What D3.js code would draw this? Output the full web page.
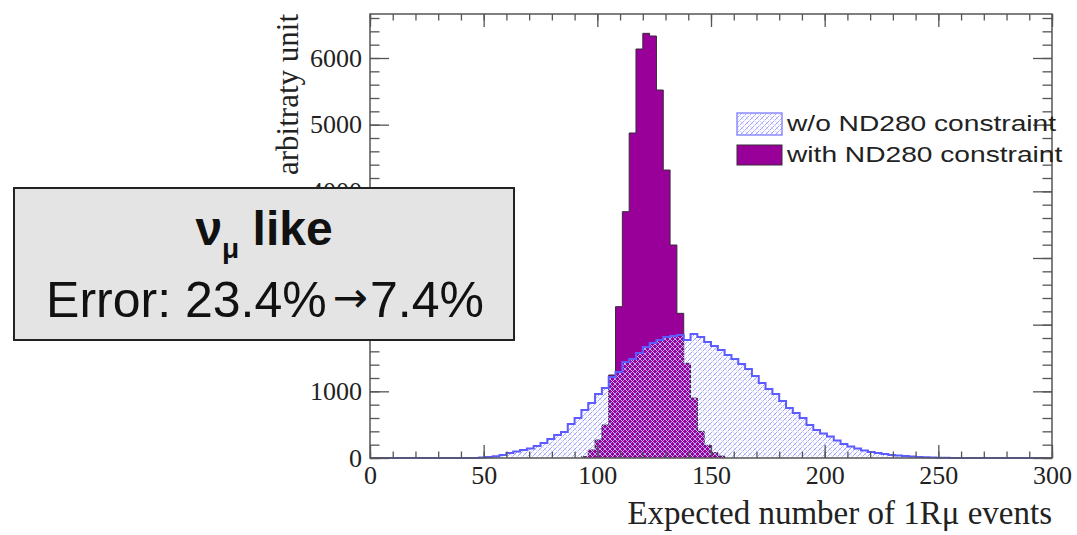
<!DOCTYPE html>
<html>
<head>
<meta charset="utf-8">
<script src="https://cdn.jsdelivr.net/npm/d3@7"></script>
<style>
  html, body { margin: 0; padding: 0; background: #fff; }
  svg { display: block; }
</style>
</head>
<body>
<svg id="chart" width="1077" height="535"></svg>
<script>
// histogram binning (both histograms: 100 bins over 0..300)
const binWidth = 3;
const xMin = 0, xMax = 300;

// with ND280 constraint (purple), first bin lower edge + bin contents
const purpleStart = 93;
const purpleValues = [20, 120, 270, 495, 1245, 2270, 3695, 4875, 6135, 6370, 6330,
  5520, 4320, 3195, 2170, 1420, 900, 400, 190, 80, 30];

// w/o ND280 constraint (blue hatched)
const blueStart = 48;
const blueValues = [8, 15, 25, 45, 75, 98, 120, 143, 180, 225, 285, 345, 390, 510, 600,
  720, 825, 960, 1050, 1215, 1290, 1440, 1485, 1575, 1665, 1725, 1770, 1815, 1830,
  1845, 1770, 1860, 1815, 1740, 1680, 1620, 1545, 1485, 1410, 1335, 1230, 1125, 1035,
  960, 855, 750, 675, 600, 495, 420, 368, 323, 263, 210, 173, 143, 113, 90, 75, 60,
  45, 38, 30, 23, 15, 12, 8, 5, 3];

const xMajorTicks = [0, 50, 100, 150, 200, 250, 300];
const yMajorTicks = [0, 1000, 2000, 3000, 4000, 5000, 6000];
const yMax = 6660;

const legendLabels = ["w/o ND280 constraint", "with ND280 constraint"];
const boxTitle = ["ν", "μ", " like"];
const boxError = ["Error: 23.4%", "→", "7.4%"];

const svg = d3.select("#chart");

const margin = { left: 370, right: 25, top: 14, bottom: 77 };
const width = 1077 - margin.left - margin.right,
  height = 535 - margin.top - margin.bottom;

const x = d3.scaleLinear().domain([xMin, xMax]).range([0, width]);
const y = d3.scaleLinear().domain([0, yMax]).range([height, 0]);

const g = svg.append("g")
  .attr("transform", "translate(" + margin.left + "," + margin.top + ")");

// hatch pattern like ROOT fill style
const defs = svg.append("defs");
const pat = defs.append("pattern")
  .attr("id", "hatch")
  .attr("patternUnits", "userSpaceOnUse")
  .attr("width", 5).attr("height", 5);
pat.append("path")
  .attr("d", "M-1,1 l2,-2 M0,5 l5,-5 M4,6 l2,-2")
  .attr("stroke", "#a4a4ff").attr("stroke-width", 1);
pat.append("path")
  .attr("d", "M-1,4 l2,2 M0,0 l5,5 M4,-1 l2,2")
  .attr("stroke", "#d4d4ff").attr("stroke-width", 0.8);

// turn a bin list into step points
function toBins(start, values) {
  const pts = values.map((v, i) => [start + i * binWidth, v]);
  pts.push([start + values.length * binWidth, values[values.length - 1]]);
  return pts;
}

// blue histogram covers the whole axis range (zeros outside data)
const blueFull = d3.range(xMin, xMax, binWidth).map(e => {
  const i = Math.round((e - blueStart) / binWidth);
  return i >= 0 && i < blueValues.length ? blueValues[i] : 0;
});
const blueBins = toBins(xMin, blueFull);
const purpleBins = toBins(purpleStart, purpleValues);

const area = d3.area()
  .curve(d3.curveStepAfter)
  .x(d => x(d[0]))
  .y0(y(0))
  .y1(d => y(d[1]));

const line = d3.line()
  .curve(d3.curveStepAfter)
  .x(d => x(d[0]))
  .y(d => y(d[1]));

// purple
g.append("path")
  .datum(purpleBins)
  .attr("fill", "#990099")
  .attr("d", area);
const pLine = [[purpleStart, 0]].concat(purpleBins, [[purpleBins[purpleBins.length - 1][0], 0]]);
g.append("path")
  .datum(pLine)
  .attr("fill", "none")
  .attr("stroke", "#3a2a3a")
  .attr("stroke-width", 1)
  .attr("d", line);

// blue hatched
g.append("path")
  .datum(blueBins)
  .attr("fill", "url(#hatch)")
  .attr("d", area);
g.append("path")
  .datum(blueBins)
  .attr("fill", "none")
  .attr("stroke", "#5c5cff")
  .attr("stroke-width", 2)
  .attr("d", line);

// axes with ROOT-like inside ticks
const tickFont = "Liberation Serif, Times New Roman, serif";
function styleAxis(sel) {
  sel.select(".domain").remove();
  sel.selectAll(".tick line").attr("stroke", "#555").attr("stroke-width", 1.3);
  sel.selectAll("text").attr("fill", "#222").style("font-family", tickFont).style("font-size", "26px");
}

const xMinor = d3.range(xMin, xMax + 1, 10);
const yMinor = d3.range(0, yMax, 200);

g.append("g").attr("transform", "translate(0," + height + ")")
  .call(d3.axisBottom(x).tickValues(xMinor).tickSize(-6.5).tickFormat(""))
  .call(styleAxis);
g.append("g").attr("transform", "translate(0," + height + ")")
  .call(d3.axisBottom(x).tickValues(xMajorTicks).tickSize(-13).tickPadding(8).tickFormat(d3.format("d")))
  .call(styleAxis);
g.append("g")
  .call(d3.axisTop(x).tickValues(xMinor).tickSize(-6.5).tickFormat(""))
  .call(styleAxis);
g.append("g")
  .call(d3.axisTop(x).tickValues(xMajorTicks).tickSize(-13).tickFormat(""))
  .call(styleAxis);

g.append("g")
  .call(d3.axisLeft(y).tickValues(yMinor).tickSize(-9.5).tickFormat(""))
  .call(styleAxis);
g.append("g")
  .call(d3.axisLeft(y).tickValues(yMajorTicks).tickSize(-19).tickPadding(8).tickFormat(d3.format("d")))
  .call(styleAxis);
g.append("g").attr("transform", "translate(" + width + ",0)")
  .call(d3.axisRight(y).tickValues(yMinor).tickSize(-9.5).tickFormat(""))
  .call(styleAxis);
g.append("g").attr("transform", "translate(" + width + ",0)")
  .call(d3.axisRight(y).tickValues(yMajorTicks).tickSize(-19).tickFormat(""))
  .call(styleAxis);

// frame
g.append("rect")
  .attr("width", width).attr("height", height)
  .attr("fill", "none").attr("stroke", "#555").attr("stroke-width", 1.5);

// axis titles
g.append("text")
  .attr("x", width).attr("y", height + 66)
  .attr("text-anchor", "end")
  .attr("fill", "#222")
  .style("font-family", tickFont).style("font-size", "33px")
  .text("Expected number of 1Rμ events");

g.append("text")
  .attr("transform", "translate(" + (-72) + ",0) rotate(-90)")
  .attr("text-anchor", "end")
  .attr("fill", "#222")
  .style("font-family", tickFont).style("font-size", "31px")
  .text("arbitraty unit");

// legend
const legend = svg.append("g").attr("transform", "translate(737,113)");
legend.append("rect")
  .attr("width", 45).attr("height", 22)
  .attr("fill", "url(#hatch)").attr("stroke", "#8c8cff").attr("stroke-width", 1.5);
legend.append("rect")
  .attr("y", 32).attr("width", 45).attr("height", 20)
  .attr("fill", "#990099").attr("stroke", "#3a2a3a").attr("stroke-width", 1);
// the legend font is drawn horizontally stretched in the original
legend.selectAll("text.leg")
  .data(legendLabels)
  .join("text")
  .attr("class", "leg")
  .attr("transform", (d, i) => "translate(50," + (18 + i * 31) + ") scale(1.28,1)")
  .attr("fill", "#222")
  .style("font-family", "Liberation Sans, Arial, sans-serif")
  .style("font-size", "22px")
  .text(d => d);

// annotation box
const box = svg.append("g");
box.append("rect")
  .attr("x", 14).attr("y", 188).attr("width", 500).attr("height", 152)
  .attr("fill", "#e4e4e4").attr("stroke", "#222").attr("stroke-width", 2);

const t1 = box.append("text")
  .attr("x", 264).attr("y", 245)
  .attr("text-anchor", "middle")
  .attr("fill", "#111")
  .style("font-family", "Liberation Sans, Arial, sans-serif")
  .style("font-weight", "bold")
  .style("font-size", "48px");
t1.append("tspan").text(boxTitle[0]);
t1.append("tspan").attr("dy", 13).style("font-size", "28px").text(boxTitle[1]);
t1.append("tspan").attr("dy", -13).text(boxTitle[2]);

const t2 = box.append("text")
  .attr("x", 265).attr("y", 317)
  .attr("text-anchor", "middle")
  .attr("fill", "#111")
  .style("font-family", "Liberation Sans, Arial, sans-serif")
  .style("font-size", "50px");
t2.append("tspan").text(boxError[0]);
t2.append("tspan").attr("dx", 6).attr("dy", -5)
  .style("font-family", "DejaVu Sans, sans-serif")
  .style("font-size", "42px").text(boxError[1]);
t2.append("tspan").attr("dx", 2).attr("dy", 5).text(boxError[2]);
</script>
</body>
</html>
